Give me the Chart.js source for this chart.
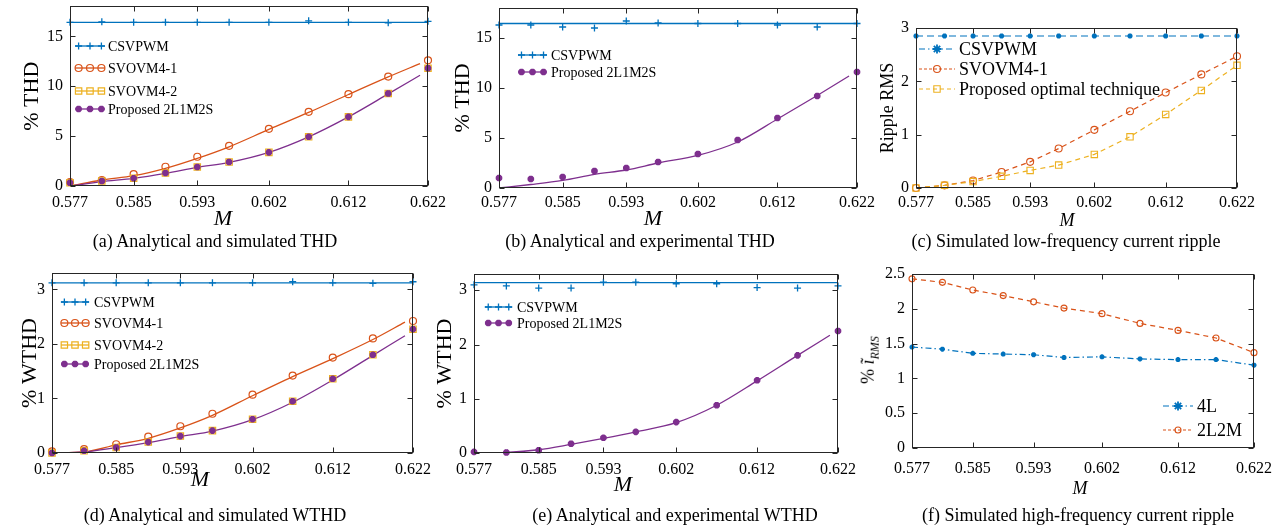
<!DOCTYPE html>
<html>
<head>
<meta charset="utf-8">
<script src="https://cdn.jsdelivr.net/npm/chart.js@4.4.1/dist/chart.umd.min.js"></script>
<style>
  body { margin: 0; background: #fff; width: 1278px; height: 529px; position: relative; overflow: hidden; }
  .t { position: absolute; transform: translate(-50%, -50%); white-space: nowrap; color: #000;
       font-family: 'Liberation Serif', 'DejaVu Serif', serif; }
  .cap { font-size: 18px; }
  .m { font-style: italic; }
</style>
</head>
<body>
<script>
// modulation index
const M_SIM = [0.577, 0.581, 0.585, 0.589, 0.593, 0.597, 0.602, 0.607, 0.612, 0.617, 0.622];
const M_ANA = [0.577, 0.581, 0.585, 0.589, 0.593, 0.597, 0.602, 0.607, 0.612, 0.617, 0.621];
const M_TICKS = [0.577, 0.585, 0.593, 0.602, 0.612, 0.622];

// (a) analytical and simulated THD
const thdCsvAna  = [16.4, 16.4, 16.4, 16.4, 16.4, 16.4, 16.4, 16.4, 16.4, 16.4, 16.4];
const thdCsvSim  = [16.4, 16.45, 16.4, 16.4, 16.4, 16.4, 16.4, 16.55, 16.4, 16.35, 16.5];
const thdSv1Ana  = [0, 0.6, 1.03, 1.77, 2.77, 3.93, 5.67, 7.37, 9.17, 10.93, 12.27];
const thdSv1Sim  = [0.4, 0.6, 1.2, 1.93, 2.93, 4.03, 5.73, 7.43, 9.2, 10.97, 12.6];
const thdSv2Sim  = [0.33, 0.5, 0.77, 1.3, 1.9, 2.4, 3.37, 4.93, 6.93, 9.27, 11.8];
const thdPropAna = [0, 0.43, 0.77, 1.27, 1.87, 2.37, 3.37, 4.93, 6.93, 9.23, 11.1];
const thdPropSim = [0.33, 0.5, 0.77, 1.3, 1.9, 2.4, 3.37, 4.93, 6.93, 9.27, 11.8];

// (b) analytical and experimental THD
const thdCsvAnaB  = [16.45, 16.45, 16.45, 16.45, 16.45, 16.45, 16.45, 16.45, 16.45, 16.45, 16.45];
const thdCsvExp   = [16.3, 16.3, 16.1, 16.0, 16.7, 16.5, 16.45, 16.45, 16.3, 16.1, 16.45];
const thdPropAnaB = [0, 0.35, 0.76, 1.36, 1.8, 2.5, 3.26, 4.6, 6.9, 9.25, 11.2];
const thdPropExp  = [1.0, 0.9, 1.1, 1.7, 2.0, 2.6, 3.4, 4.8, 7.0, 9.2, 11.6];

// (c) simulated low-frequency current ripple
const lfCsv = [2.85, 2.85, 2.85, 2.85, 2.85, 2.85, 2.85, 2.85, 2.85, 2.85, 2.85];
const lfSv1 = [0, 0.05, 0.14, 0.3, 0.49, 0.74, 1.09, 1.44, 1.79, 2.13, 2.47];
const lfOpt = [0, 0.05, 0.12, 0.22, 0.33, 0.43, 0.63, 0.96, 1.38, 1.83, 2.3];

// (d) analytical and simulated WTHD
const wCsvAna  = [3.12, 3.12, 3.12, 3.12, 3.12, 3.12, 3.12, 3.12, 3.12, 3.12, 3.12];
const wCsvSim  = [3.12, 3.12, 3.12, 3.12, 3.12, 3.12, 3.12, 3.14, 3.12, 3.11, 3.14];
const wSv1Ana  = [0, 0.02, 0.15, 0.27, 0.46, 0.69, 1.05, 1.4, 1.73, 2.08, 2.4];
const wSv1Sim  = [0.03, 0.07, 0.16, 0.3, 0.49, 0.72, 1.07, 1.42, 1.75, 2.1, 2.42];
const wSv2Sim  = [0, 0.04, 0.1, 0.2, 0.31, 0.41, 0.62, 0.95, 1.36, 1.8, 2.27];
const wPropAna = [0, 0.02, 0.1, 0.19, 0.3, 0.4, 0.61, 0.93, 1.34, 1.79, 2.15];
const wPropSim = [0, 0.04, 0.1, 0.2, 0.31, 0.41, 0.62, 0.95, 1.36, 1.8, 2.27];

// (e) analytical and experimental WTHD
const wCsvAnaE  = [3.14, 3.14, 3.14, 3.14, 3.14, 3.14, 3.14, 3.14, 3.14, 3.14, 3.14];
const wCsvExp   = [3.1, 3.08, 3.04, 3.04, 3.15, 3.15, 3.12, 3.12, 3.05, 3.04, 3.08];
const wPropAnaE = [0, 0.01, 0.06, 0.16, 0.27, 0.39, 0.56, 0.88, 1.33, 1.8, 2.17];
const wPropExp  = [0.02, 0.01, 0.05, 0.17, 0.28, 0.39, 0.57, 0.88, 1.34, 1.8, 2.25];

// (f) simulated high-frequency current ripple
const hf4L   = [1.45, 1.42, 1.36, 1.35, 1.34, 1.30, 1.31, 1.28, 1.27, 1.27, 1.19];
const hf2L2M = [2.43, 2.38, 2.27, 2.19, 2.10, 2.01, 1.93, 1.79, 1.69, 1.58, 1.37];

const BLUE = '#0072BD', ORANGE = '#D95319', YELLOW = '#EDB120', PURPLE = '#7E2F8E';
const SERIF = "'Liberation Serif', 'DejaVu Serif', serif";

function pts(xs, ys) { return xs.map((x, i) => ({ x: x, y: ys[i] })); }

function curve(label, xs, ys, color, extra) {
  return Object.assign({
    label: label, data: pts(xs, ys), borderColor: color, backgroundColor: color,
    borderWidth: 1.3, pointRadius: 0, cubicInterpolationMode: 'monotone', fill: false
  }, extra || {});
}

function marks(label, xs, ys, color, style, r, bw, fillCol) {
  return {
    label: label, data: pts(xs, ys), showLine: false, borderColor: color, backgroundColor: color,
    pointStyle: style, pointRadius: r, pointBorderWidth: bw, pointBorderColor: color,
    pointBackgroundColor: fillCol || 'rgba(0,0,0,0)', clip: false
  };
}

// box + inward ticks like the original figure
const framePlugin = {
  id: 'frame',
  afterDatasetsDraw(chart) {
    const { ctx, chartArea: a, scales } = chart;
    const L = Math.round(a.left) + 0.5, R = Math.round(a.right) - 0.5;
    const T = Math.round(a.top) + 0.5, B = Math.round(a.bottom) - 0.5;
    ctx.save();
    ctx.setLineDash([]);
    ctx.strokeStyle = '#262626';
    ctx.lineWidth = 1;
    ctx.strokeRect(L, T, R - L, B - T);
    ctx.beginPath();
    scales.x.ticks.forEach(t => {
      const px = Math.round(scales.x.getPixelForValue(t.value)) + 0.5;
      ctx.moveTo(px, B); ctx.lineTo(px, B - 5);
      ctx.moveTo(px, T); ctx.lineTo(px, T + 5);
    });
    scales.y.ticks.forEach(t => {
      const py = Math.round(scales.y.getPixelForValue(t.value)) + 0.5;
      ctx.moveTo(L, py); ctx.lineTo(L + 5, py);
      ctx.moveTo(R, py); ctx.lineTo(R - 5, py);
    });
    ctx.stroke();
    ctx.restore();
  }
};

// legend drawn inside the axes
const legendPlugin = {
  id: 'innerLegend',
  afterDatasetsDraw(chart, args, o) {
    if (!o.items) return;
    const ctx = chart.ctx;
    ctx.save();
    ctx.font = o.font;
    ctx.textBaseline = 'middle';
    o.items.forEach((it, i) => {
      const y = o.rows[i] - o.oy;
      const x0 = o.x0 - o.ox, x1 = o.x1 - o.ox;
      const ln = chart.data.datasets[it.line];
      const mk = chart.data.datasets[it.mark];
      ctx.strokeStyle = it.lineColor || ln.borderColor;
      ctx.lineWidth = ln.borderWidth || 1.2;
      ctx.setLineDash(it.dash || ln.borderDash || []);
      ctx.beginPath(); ctx.moveTo(x0, y); ctx.lineTo(x1, y); ctx.stroke();
      ctx.setLineDash([]);
      const spots = o.n === 3 ? [0.12, 0.5, 0.88] : [0.5];
      spots.forEach(f => {
        ctx.strokeStyle = mk.pointBorderColor;
        ctx.fillStyle = mk.pointBackgroundColor;
        ctx.lineWidth = mk.pointBorderWidth;
        Chart.helpers.drawPoint(ctx, {
          pointStyle: mk.pointStyle, radius: it.r || mk.pointRadius,
          borderWidth: mk.pointBorderWidth, rotation: 0
        }, x0 + (x1 - x0) * f, y);
      });
      ctx.fillStyle = '#000';
      ctx.fillText(it.text, o.tx - o.ox, y + 1);
    });
    ctx.restore();
  }
};

function makeChart(spec) {
  const [cl, ct, cr, cb] = spec.canvas;
  const [fl, ft, fr, fb] = spec.frame;
  const cv = document.createElement('canvas');
  cv.width = cr - cl; cv.height = cb - ct;
  cv.style.cssText = 'position:absolute;left:' + cl + 'px;top:' + ct + 'px;width:' + (cr - cl) + 'px;height:' + (cb - ct) + 'px';
  document.body.appendChild(cv);
  const n = spec.datasets.length;
  spec.datasets.forEach((d, i) => { d.order = n - i; });
  const tickFont = { family: SERIF, size: 16 };
  const ts = spec.yTitleSize || 22;
  return new Chart(cv, {
    type: 'line',
    data: { datasets: spec.datasets },
    plugins: [framePlugin, legendPlugin],
    options: {
      responsive: false, animation: false, devicePixelRatio: 1,
      layout: { padding: { left: 0, top: ft - ct, right: cr - fr, bottom: 0 } },
      plugins: {
        legend: { display: false }, tooltip: { enabled: false },
        innerLegend: Object.assign({ ox: cl, oy: ct }, spec.legend)
      },
      scales: {
        x: {
          type: 'linear', min: 0.577, max: 0.622,
          grid: { display: false, drawTicks: false }, border: { display: false },
          ticks: { autoSkip: false, maxRotation: 0, padding: spec.xPad, font: tickFont, color: '#000',
                   callback: v => Number(v).toFixed(3) },
          afterBuildTicks: s => { s.ticks = M_TICKS.map(v => ({ value: v })); },
          afterFit: s => { s.height = cb - fb; s.paddingLeft = 0; s.paddingRight = 0; }
        },
        y: {
          type: 'linear', min: spec.yMin, max: spec.yMax,
          grid: { display: false, drawTicks: false }, border: { display: false },
          ticks: { padding: 7, font: tickFont, color: '#000', callback: v => String(v) },
          title: spec.yTitle ? {
            display: true, text: spec.yTitle, color: '#000',
            font: { family: SERIF, size: ts },
            padding: { top: spec.yTitleX - cl - ts * 0.6, bottom: 0 }
          } : { display: false },
          afterBuildTicks: s => { s.ticks = spec.yTicks.map(v => ({ value: v })); },
          afterFit: s => { s.width = fl - cl; s.paddingTop = 0; s.paddingBottom = 0; }
        }
      }
    }
  });
}

// (a)
makeChart({
  canvas: [0, 0, 462, 236], frame: [70, 6, 428, 186], xPad: 7,
  yMin: 0, yMax: 18, yTicks: [0, 5, 10, 15], yTitle: '% THD', yTitleX: 32,
  datasets: [
    curve('CSVPWM analytical', M_SIM, thdCsvAna, BLUE),
    curve('SVOVM4-1 analytical', M_ANA, thdSv1Ana, ORANGE),
    curve('Proposed 2L1M2S analytical', M_ANA, thdPropAna, PURPLE),
    marks('CSVPWM', M_SIM, thdCsvSim, BLUE, 'cross', 3.5, 1.3),
    marks('SVOVM4-1', M_SIM, thdSv1Sim, ORANGE, 'circle', 3.5, 1.2),
    marks('SVOVM4-2', M_SIM, thdSv2Sim, YELLOW, 'rect', 4.5, 1.2),
    marks('Proposed 2L1M2S', M_SIM, thdPropSim, PURPLE, 'star', 3.3, 2.4)
  ],
  legend: {
    font: '14px ' + SERIF, n: 3, x0: 75, x1: 105, tx: 108, rows: [46, 68, 91, 109],
    items: [
      { text: 'CSVPWM', line: 0, mark: 3 },
      { text: 'SVOVM4-1', line: 1, mark: 4 },
      { text: 'SVOVM4-2', line: 1, mark: 5, lineColor: YELLOW },
      { text: 'Proposed 2L1M2S', line: 2, mark: 6 }
    ]
  }
});

// (b)
makeChart({
  canvas: [430, 0, 890, 236], frame: [499, 8, 857, 188], xPad: 5,
  yMin: 0, yMax: 18, yTicks: [0, 5, 10, 15], yTitle: '% THD', yTitleX: 463,
  datasets: [
    curve('CSVPWM analytical', M_SIM, thdCsvAnaB, BLUE),
    curve('Proposed 2L1M2S analytical', M_ANA, thdPropAnaB, PURPLE),
    marks('CSVPWM', M_SIM, thdCsvExp, BLUE, 'cross', 3.5, 1.3),
    marks('Proposed 2L1M2S', M_SIM, thdPropExp, PURPLE, 'star', 3.3, 2.4)
  ],
  legend: {
    font: '14px ' + SERIF, n: 3, x0: 518, x1: 547, tx: 551, rows: [55, 72],
    items: [
      { text: 'CSVPWM', line: 0, mark: 2 },
      { text: 'Proposed 2L1M2S', line: 1, mark: 3 }
    ]
  }
});

// (c)
makeChart({
  canvas: [870, 0, 1276, 236], frame: [916, 28, 1237, 188], xPad: 5,
  yMin: 0, yMax: 3, yTicks: [0, 1, 2, 3], yTitle: 'Ripple RMS', yTitleX: 888, yTitleSize: 18,
  datasets: [
    Object.assign(marks('CSVPWM', M_SIM, lfCsv, BLUE, 'star', 2.5, 1.8), { showLine: true, borderWidth: 1.2, borderDash: [7, 4] }),
    Object.assign(marks('SVOVM4-1', M_SIM, lfSv1, ORANGE, 'circle', 3.5, 1.1), { showLine: true, borderWidth: 1.2, borderDash: [5, 4] }),
    Object.assign(marks('Proposed optimal technique', M_SIM, lfOpt, YELLOW, 'rect', 4.5, 1.1), { showLine: true, borderWidth: 1.2, borderDash: [5, 4] })
  ],
  legend: {
    font: '18px ' + SERIF, n: 1, x0: 919, x1: 955, tx: 959, rows: [49, 69, 89],
    items: [
      { text: 'CSVPWM', line: 0, mark: 0, dash: [6, 3, 1.5, 3], r: 4.5 },
      { text: 'SVOVM4-1', line: 1, mark: 1, dash: [3, 2] },
      { text: 'Proposed optimal technique', line: 2, mark: 2, dash: [4, 3] }
    ]
  }
});

// (d)
makeChart({
  canvas: [0, 255, 450, 500], frame: [52, 273, 413, 453], xPad: 7,
  yMin: 0, yMax: 3.3, yTicks: [0, 1, 2, 3], yTitle: '% WTHD', yTitleX: 30,
  datasets: [
    curve('CSVPWM analytical', M_SIM, wCsvAna, BLUE),
    curve('SVOVM4-1 analytical', M_ANA, wSv1Ana, ORANGE),
    curve('Proposed 2L1M2S analytical', M_ANA, wPropAna, PURPLE),
    marks('CSVPWM', M_SIM, wCsvSim, BLUE, 'cross', 3.5, 1.3),
    marks('SVOVM4-1', M_SIM, wSv1Sim, ORANGE, 'circle', 3.5, 1.2),
    marks('SVOVM4-2', M_SIM, wSv2Sim, YELLOW, 'rect', 4.5, 1.2),
    marks('Proposed 2L1M2S', M_SIM, wPropSim, PURPLE, 'star', 3.3, 2.4)
  ],
  legend: {
    font: '14px ' + SERIF, n: 3, x0: 61, x1: 89, tx: 94, rows: [302, 323, 345, 364],
    items: [
      { text: 'CSVPWM', line: 0, mark: 3 },
      { text: 'SVOVM4-1', line: 1, mark: 4 },
      { text: 'SVOVM4-2', line: 1, mark: 5, lineColor: YELLOW },
      { text: 'Proposed 2L1M2S', line: 2, mark: 6 }
    ]
  }
});

// (e)
makeChart({
  canvas: [425, 255, 870, 500], frame: [474, 274, 838, 453], xPad: 7,
  yMin: 0, yMax: 3.3, yTicks: [0, 1, 2, 3], yTitle: '% WTHD', yTitleX: 445,
  datasets: [
    curve('CSVPWM analytical', M_SIM, wCsvAnaE, BLUE),
    curve('Proposed 2L1M2S analytical', M_ANA, wPropAnaE, PURPLE),
    marks('CSVPWM', M_SIM, wCsvExp, BLUE, 'cross', 3.5, 1.3),
    marks('Proposed 2L1M2S', M_SIM, wPropExp, PURPLE, 'star', 3.3, 2.4)
  ],
  legend: {
    font: '14px ' + SERIF, n: 3, x0: 485, x1: 512, tx: 517, rows: [307, 323],
    items: [
      { text: 'CSVPWM', line: 0, mark: 2 },
      { text: 'Proposed 2L1M2S', line: 1, mark: 3 }
    ]
  }
});

// (f)
makeChart({
  canvas: [850, 255, 1278, 500], frame: [912, 274, 1254, 448], xPad: 11,
  yMin: 0, yMax: 2.5, yTicks: [0, 0.5, 1, 1.5, 2, 2.5],
  datasets: [
    Object.assign(marks('4L', M_SIM, hf4L, BLUE, 'star', 2.5, 1.8), { showLine: true, borderWidth: 1.2, borderDash: [6, 3, 1.5, 3] }),
    Object.assign(marks('2L2M', M_SIM, hf2L2M, ORANGE, 'circle', 3, 1.1), { showLine: true, borderWidth: 1.2, borderDash: [5, 4] })
  ],
  legend: {
    font: '18px ' + SERIF, n: 1, x0: 1163, x1: 1193, tx: 1197, rows: [406, 430],
    items: [
      { text: '4L', line: 0, mark: 0, r: 4.5 },
      { text: '2L2M', line: 1, mark: 1, dash: [3, 2] }
    ]
  }
});

// axis labels and captions
function label(html, x, y, cls, css) {
  const d = document.createElement('div');
  d.className = 't ' + (cls || '');
  d.innerHTML = html;
  d.style.left = x + 'px';
  d.style.top = y + 'px';
  if (css) d.style.cssText += css;
  document.body.appendChild(d);
}
label('M', 223, 218, 'm', 'font-size:22px');
label('M', 653, 218, 'm', 'font-size:22px');
label('M', 1067, 220, 'm', 'font-size:18px');
label('M', 200, 479, 'm', 'font-size:22px');
label('M', 623, 484, 'm', 'font-size:22px');
label('M', 1080, 488, 'm', 'font-size:18px');
label('% <i>ĩ</i><sub style="font-size:12px"><i>RMS</i></sub>', 870, 360, '',
      'font-size:18px;transform:translate(-50%,-50%) rotate(-90deg)');

label('(a) Analytical and simulated THD', 215, 241, 'cap');
label('(b) Analytical and experimental THD', 640, 241, 'cap');
label('(c) Simulated low-frequency current ripple', 1066, 241, 'cap');
label('(d) Analytical and simulated WTHD', 215, 515, 'cap');
label('(e) Analytical and experimental WTHD', 675, 515, 'cap');
label('(f) Simulated high-frequency current ripple', 1078, 515, 'cap');
</script>
</body>
</html>
